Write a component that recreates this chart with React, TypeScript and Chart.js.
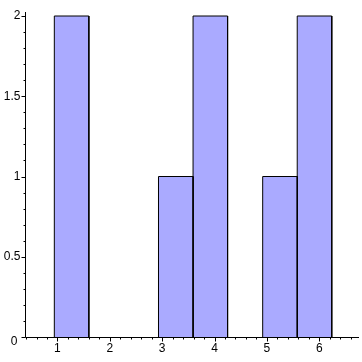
import React, { useEffect, useRef } from "react";
import { Chart, registerables } from "chart.js";

Chart.register(...registerables);

// Histogram bin edges and counts
const binEdges = [0.94, 1.6, 2.27, 2.93, 3.59, 4.25, 4.92, 5.58, 6.24];
const binCounts = [2, 0, 0, 1, 2, 0, 1, 2];

// Axis ranges and ticks
const xMin = 0.38;
const xMax = 6.76;
const yMin = 0;
const yMax = 2.025;
const xMajorTicks = [1, 2, 3, 4, 5, 6];
const xMinorStep = 0.2;
const yMajorTicks = [0, 0.5, 1, 1.5, 2];
const yMajorLabels = ["0", "0.5", "1", "1.5", "2"];
const yMinorStep = 0.1;

const barFill = "rgb(170,170,255)";
const FONT = '12px "Liberation Sans", Arial, sans-serif';

const axesPlugin = {
  id: "mapleAxes",
  afterDatasetsDraw(chart: any) {
    const ctx = chart.ctx as CanvasRenderingContext2D;
    const xs = chart.scales.x;
    const ys = chart.scales.y;
    const ca = chart.chartArea;
    const x0 = Math.round(xs.getPixelForValue(xMin)) + 0.5;
    const y0 = Math.round(ys.getPixelForValue(0)) + 0.5;
    ctx.save();
    ctx.strokeStyle = "#000";
    ctx.lineWidth = 1;
    ctx.beginPath();
    // y axis
    ctx.moveTo(x0, Math.round(ca.top));
    ctx.lineTo(x0, y0);
    // x axis
    ctx.moveTo(x0, y0);
    ctx.lineTo(Math.round(ca.right), y0);
    // y ticks
    for (let v = 0; v <= yMax + 1e-9; v += yMinorStep) {
      const vv = Math.round(v * 10) / 10;
      const isMajor = yMajorTicks.some((t) => Math.abs(t - vv) < 1e-6);
      const py = Math.round(ys.getPixelForValue(vv)) + 0.5;
      const len = isMajor ? 4 : 2;
      ctx.moveTo(x0 - len, py);
      ctx.lineTo(x0, py);
    }
    // x ticks
    const start = Math.ceil(xMin / xMinorStep) * xMinorStep;
    for (let v = start; v <= xMax + 1e-9; v += xMinorStep) {
      const vv = Math.round(v * 10) / 10;
      const isMajor = xMajorTicks.some((t) => Math.abs(t - vv) < 1e-6);
      const px = Math.round(xs.getPixelForValue(vv)) + 0.5;
      const len = isMajor ? 4 : 2;
      ctx.moveTo(px, y0);
      ctx.lineTo(px, y0 + len);
    }
    ctx.stroke();

    ctx.fillStyle = "#000";
    ctx.font = FONT;
    // y labels
    ctx.textAlign = "right";
    ctx.textBaseline = "middle";
    yMajorTicks.forEach((t, i) => {
      let py = ys.getPixelForValue(t);
      let px = x0 - 5;
      if (t === 0) {
        py += 5;
        px = x0 - 8;
      }
      ctx.fillText(yMajorLabels[i], px, py);
    });
    // x labels
    ctx.textAlign = "center";
    ctx.textBaseline = "top";
    xMajorTicks.forEach((t) => {
      ctx.fillText(String(t), xs.getPixelForValue(t), y0 + 5);
    });
    ctx.restore();
  },
};

export default function App() {
  const ref = useRef<HTMLCanvasElement>(null);
  useEffect(() => {
    document.body.style.margin = "0";
    const datasets = binCounts
      .map((c, i) => ({ c, a: binEdges[i], b: binEdges[i + 1] }))
      .filter((d) => d.c > 0)
      .map((d) => ({
        type: "line" as const,
        data: [
          { x: d.a, y: 0 },
          { x: d.a, y: d.c },
          { x: d.b, y: d.c },
          { x: d.b, y: 0 },
        ],
        borderColor: "#000",
        borderWidth: 1,
        backgroundColor: barFill,
        fill: "origin",
        pointRadius: 0,
        tension: 0,
      }));
    const chart = new Chart(ref.current!, {
      type: "line",
      data: { datasets: datasets as any },
      options: {
        animation: false,
        responsive: false,
        layout: { padding: { left: 25, top: 12, right: 3, bottom: 25 } },
        plugins: { legend: { display: false }, tooltip: { enabled: false } },
        scales: {
          x: { type: "linear", display: false, min: xMin, max: xMax },
          y: { type: "linear", display: false, min: yMin, max: yMax },
        },
      },
      plugins: [axesPlugin],
    });
    return () => chart.destroy();
  }, []);
  return <canvas ref={ref} width={362} height={362} style={{ display: "block" }} />;
}
